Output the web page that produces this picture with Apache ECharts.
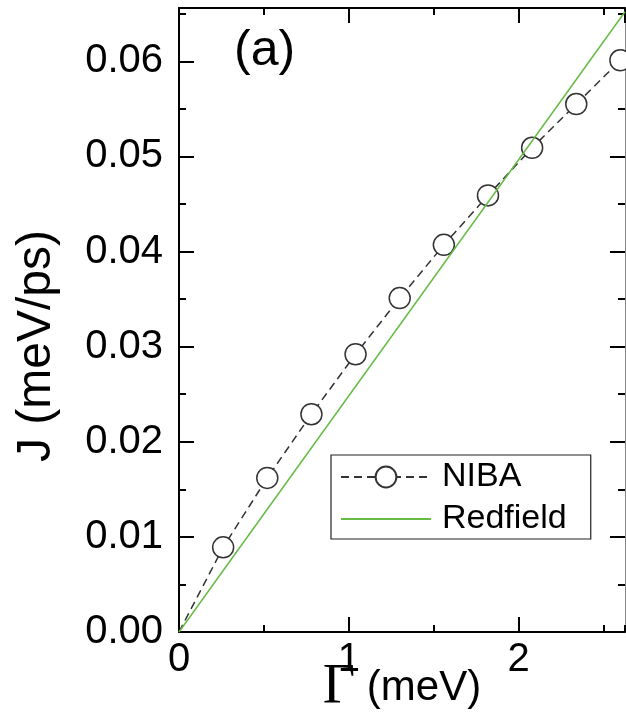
<!DOCTYPE html>
<html>
<head>
<meta charset="utf-8">
<script src="https://cdn.jsdelivr.net/npm/echarts@6/dist/echarts.min.js"></script>
<style>
  html, body { margin: 0; padding: 0; background: #fff; }
  #chart { width: 626px; height: 728px; }
</style>
</head>
<body>
<div id="chart"></div>
<script>
// Coupling strength Γ (meV) and heat current J (meV/ps)
const gammaValues = [0, 0.26, 0.52, 0.78, 1.04, 1.30, 1.56, 1.82, 2.08, 2.34, 2.60];
const nibaValues  = [0, 0.0089, 0.0162, 0.0229, 0.0292, 0.0351, 0.0407, 0.0459, 0.0509, 0.0555, 0.0601];
// Redfield result is linear in Γ: end points of the line
const redfieldGamma  = [0, 2.627];
const redfieldValues = [0, 0.0652];
// Axis ranges and tick steps
const xRange = [0, 2.627];
const yRange = [0, 0.0656];
const xMajor = 1, xMinor = 0.5;
const yMajor = 0.01, yMinor = 0.005;

const FONT = '"Liberation Sans", Arial, sans-serif';

const nibaData = gammaValues.map((g, i) =>
  i === 0 ? { value: [g, nibaValues[i]], symbol: 'none' } : [g, nibaValues[i]]);
const redfieldData = redfieldGamma.map((g, i) => [g, redfieldValues[i]]);

function makeAxis(kind, position, interval, tickLen, withLabels, lineStyle) {
  const range = kind === 'x' ? xRange : yRange;
  const ax = {
    type: 'value',
    position: position,
    min: range[0],
    max: range[1],
    interval: interval,
    splitLine: { show: false },
    axisLine: lineStyle ? { show: true, onZero: false, lineStyle: lineStyle } : { show: false, onZero: false },
    axisTick: { show: true, inside: true, length: tickLen, lineStyle: { color: '#000', width: 2 } },
    axisLabel: { show: false }
  };
  if (withLabels) {
    ax.axisLabel = {
      show: true,
      showMaxLabel: false,
      color: '#000',
      fontFamily: FONT,
      fontSize: 40,
      margin: kind === 'x' ? 8 : 16,
      formatter: kind === 'x' ? (v => String(Math.round(v))) : (v => v.toFixed(2))
    };
  }
  return ax;
}

const bottomX = makeAxis('x', 'bottom', xMajor, 15, true, { color: '#000', width: 2 });
bottomX.name = '{g|Γ} (meV)';
bottomX.nameLocation = 'middle';
bottomX.nameGap = 35;
bottomX.nameMoveOverlap = false;
bottomX.nameTextStyle = {
  color: '#000', fontFamily: FONT, fontSize: 42, lineHeight: 42,
  rich: { g: { fontFamily: '"Liberation Serif", "Times New Roman", serif', fontSize: 56, lineHeight: 42, color: '#000' } }
};

const option = {
  animation: false,
  backgroundColor: '#fff',
  grid: { left: 179, right: 1, top: 8, bottom: 96, containLabel: false, outerBoundsMode: 'none' },
  xAxis: [
    bottomX,
    makeAxis('x', 'bottom', xMinor, 7, false, null),
    makeAxis('x', 'top', xMajor, 15, false, { color: '#000', width: 2 }),
    makeAxis('x', 'top', xMinor, 7, false, null)
  ],
  yAxis: [
    makeAxis('y', 'left', yMajor, 15, true, { color: '#000', width: 2 }),
    makeAxis('y', 'left', yMinor, 7, false, null),
    makeAxis('y', 'right', yMajor, 15, false, { color: '#888', width: 1 }),
    makeAxis('y', 'right', yMinor, 7, false, null)
  ],
  legend: {
    data: ['NIBA', { name: 'Redfield', itemStyle: { opacity: 0 } }],
    orient: 'vertical',
    left: 331,
    top: 455,
    selectedMode: false,
    backgroundColor: '#fff',
    borderColor: '#222',
    borderWidth: 1.2,
    borderRadius: 0,
    padding: [5, 24, 3, 9],
    itemGap: 8,
    itemWidth: 90,
    itemHeight: 26,
    textStyle: { color: '#000', fontFamily: FONT, fontSize: 34, lineHeight: 34, padding: [0, 0, 0, 6] }
  },
  graphic: [
    {
      type: 'text',
      x: 37, y: 346,
      rotation: Math.PI / 2,
      style: {
        text: 'J (meV/ps)',
        font: '48px ' + FONT,
        fill: '#000',
        textAlign: 'center',
        textVerticalAlign: 'middle'
      }
    },
    {
      type: 'text',
      x: 234, y: 51,
      style: {
        text: '(a)',
        font: '50px ' + FONT,
        fill: '#000',
        textAlign: 'left',
        textVerticalAlign: 'middle'
      }
    }
  ],
  series: [
    {
      name: 'NIBA',
      type: 'line',
      xAxisIndex: 0, yAxisIndex: 0,
      data: nibaData,
      symbol: 'circle',
      symbolSize: 21,
      z: 2,
      lineStyle: { color: '#333', width: 1.5, type: [8, 5] },
      itemStyle: { color: '#fff', borderColor: '#333', borderWidth: 1.5 }
    },
    {
      name: 'Redfield',
      type: 'line',
      xAxisIndex: 0, yAxisIndex: 0,
      data: redfieldData,
      symbol: 'none',
      z: 3,
      lineStyle: { color: '#66bb44', width: 1.5 },
      itemStyle: { color: '#66bb44' }
    }
  ]
};

const chart = echarts.init(document.getElementById('chart'), null, { renderer: 'canvas' });
chart.setOption(option);
</script>
</body>
</html>
